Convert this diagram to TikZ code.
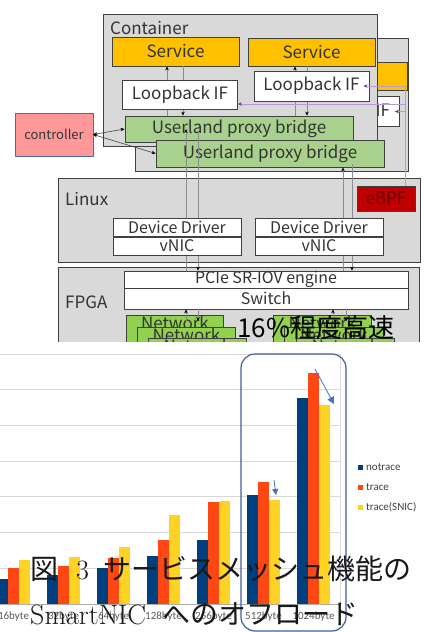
\documentclass[tikz,border=0pt]{standalone}
\usepackage{fontspec}
\newfontfamily\jpfont{Noto Sans CJK JP}
\newfontfamily\chartfont{Carlito}
\usetikzlibrary{positioning}
\usetikzlibrary{arrows.meta}

\definecolor{boxgray}{HTML}{D9D9D9}
\definecolor{linegray}{HTML}{404040}
\definecolor{flowgray}{HTML}{8C8C8C}
\definecolor{svcorange}{HTML}{FFC000}
\definecolor{upbgreen}{HTML}{A9D18E}
\definecolor{netgreen}{HTML}{92D050}
\definecolor{ctrlpink}{HTML}{FF9999}
\definecolor{ctrlblue}{HTML}{4A6BB0}
\definecolor{ebpfred}{HTML}{C00000}
\definecolor{ebpftext}{HTML}{6A0000}
\definecolor{hookline}{HTML}{B49BD6}
\definecolor{hooktip}{HTML}{7030A0}
\definecolor{barnavy}{HTML}{00407F}
\definecolor{barorange}{HTML}{FF4713}
\definecolor{baryellow}{HTML}{FFD324}
\definecolor{gridgray}{HTML}{D9D9D9}
\definecolor{markblue}{HTML}{3F5E9C}
\definecolor{hintblue}{HTML}{4472C4}

\begin{document}
\begin{tikzpicture}[x=1pt, y=-1pt, >={Stealth[black,length=4pt,width=3.5pt]},
  every node/.style={font=\jpfont\fontsize{17}{19}\selectfont, text=black!80, inner sep=0pt},
  frame/.style={draw=linegray, fill=boxgray, line width=.8pt},
  svc/.style={draw=linegray, fill=svcorange, line width=.8pt, minimum width=127, minimum height=28},
  lbk/.style={draw=linegray, fill=white, line width=.8pt, minimum width=115, minimum height=29},
  upb/.style={draw=linegray, fill=upbgreen, line width=.8pt, minimum width=228, minimum height=26},
  cell/.style={draw=linegray, fill=white, line width=.8pt, minimum width=128, minimum height=18.5, font=\jpfont\fontsize{16}{18}\selectfont},
  wide/.style={draw=linegray, fill=white, line width=.8pt, minimum width=284, font=\jpfont\fontsize{16}{18}\selectfont},
  netbox/.style={draw=linegray, fill=netgreen, line width=.8pt, anchor=north west, minimum width=97, inner ysep=2pt, text height=12pt, text depth=26pt},
  flow/.style={draw=flowgray, line width=.6pt},
  hook/.style={draw=hookline, line width=1pt, -{Stealth[hooktip,length=4pt,width=3.5pt]}},
  xlab/.style={font=\chartfont\fontsize{11}{12}\selectfont, text=black!65},
  leg/.style={font=\chartfont\fontsize{11}{12}\selectfont, text=black!75, anchor=west},
  captext/.style={anchor=west, text=black!90, font=\rmfamily\fontsize{28}{30}\selectfont}]

\useasboundingbox (0,0) rectangle (424,632);

% second container, mostly hidden
\node[frame, minimum width=273, minimum height=133] (contB) at (271.5,104.5) {};
\node[svc] (svcBB) at (343.5,76.5) {Service};
\node[lbk, minimum height=30] (lbBB) at (342,111.5) {Loopback IF};

% first container
\node[frame, minimum width=274, minimum height=132] (contA) at (240,80) {};
\node[anchor=west] (contlab) at (110,28) {Container};
\node[svc, minimum height=29] (svcA) at (175.5,51.5) {Service};
\node[svc] (svcB) at (311.5,52) {Service};
\node[upb] (upbA) at (239,129) {Userland proxy bridge};
\node[upb, minimum height=27] (upbB) at (270,153.5) {Userland proxy bridge};

\node[draw=ctrlblue, fill=ctrlpink, minimum width=78, minimum height=43, font=\jpfont\fontsize{13}{15}\selectfont] (ctrl) at (54,134.5) {controller};

% Linux
\node[frame, minimum width=362, minimum height=84] (linux) at (239,220) {};
\node[anchor=west] (linuxlab) at (65,199) {Linux};
\node[draw=linegray, fill=ebpfred, text=ebpftext, minimum width=58, minimum height=25] (ebpf) at (386,198.5) {eBPF};

% FPGA
\node[frame, minimum width=361, minimum height=90] (fpga) at (238.5,312) {};
\node[anchor=west] (fpgalab) at (65,302) {FPGA};
\node[wide, minimum height=17] (pcie) at (266,279.5) {PCIe SR-IOV engine};
\node[wide, minimum height=21] (switch) at (266,298.5) {Switch};

\node[netbox] (netA1) at (126,315) {Network};
\node[netbox, minimum width=98] (netA2) at (137,327) {Network};
\node[netbox, minimum width=98] (netA3) at (148,338) {Network};
\node[netbox, minimum width=98] (netB1) at (273,315) {Network};
\node[netbox, minimum width=99] (netB2) at (284,327) {Network};
\node[netbox, minimum width=98] (netB3) at (296,338) {Network};

% data paths
\coordinate (l1) at (167,0);
\coordinate (l2) at (183,0);
\coordinate (l3) at (295,0);
\coordinate (l4) at (307,0);
\coordinate (l5) at (186,0);
\coordinate (l6) at (198,0);
\coordinate (l7) at (343,0);
\coordinate (l8) at (352,0);
\coordinate (l9) at (333,0);
\coordinate (l10) at (346,0);
\coordinate (netlvl) at (0,321);

\draw[flow,<-] (l1 |- svcA.south) -- (l1 |- upbA.north);
\draw[flow,->] (l2 |- svcA.south) -- (l2 |- upbA.north);
\draw[flow,<-] (l3 |- svcB.south) -- (l3 |- upbA.north);
\draw[flow,->] (l4 |- svcB.south) -- (l4 |- upbA.north);
\draw[flow,<-] (l5 |- upbA.center) -- (l5 |- pcie.north);
\draw[flow,->] ([yshift=-4pt]l6 |- upbA.center) -- (l6 |- pcie.north);
\draw[flow,<-] (l7 |- upbB.south) -- (l7 |- pcie.north);
\draw[flow,->] ([yshift=3pt]l8 |- upbB.south) -- (l8 |- pcie.north);
\draw[flow,<-] (l5 |- switch.south) -- (l5 |- netlvl);
\draw[flow,->] (l6 |- switch.south) -- (l6 |- netlvl);
\draw[flow,<-] (l9 |- switch.south) -- (l9 |- netlvl);
\draw[flow,->] (l10 |- switch.south) -- (l10 |- netlvl);

\node[lbk] (lbA) at (180,94.5) {Loopback IF};
\node[lbk, minimum height=30] (lbB) at (311.5,86) {Loopback IF};

\node[cell] (ddA) at (177,227.5) {Device Driver};
\node[cell, minimum height=18] (vnicA) at (177,246) {vNIC};
\node[cell] (ddB) at (319,227.5) {Device Driver};
\node[cell, minimum height=18] (vnicB) at (319,246) {vNIC};

% eBPF hooks
\coordinate (bus) at (405,0);
\draw[hook] (bus |- ebpf.north) -- (bus |- lbB.east) -- ([xshift=-6pt]lbB.east);
\draw[hook] (bus |- 0,104) -- ([yshift=-9.5pt]lbA.east);
\draw[hook] (bus |- lbBB.east) -- ([xshift=-5pt]lbBB.east);

\draw[draw=linegray, line width=.6pt, <->] (ctrl.east) -- (upbA.west);
\draw[draw=linegray, line width=.6pt, <->] (ctrl.east) -- (upbB.west);

\node[anchor=west, text=black, font=\jpfont\fontsize{26}{28}\selectfont] (gain) at (237,328) {16\%程度高速};

% latency chart
\fill[white] (0,342) rectangle (424,632);
\foreach \k in {0,...,6}
  \draw[gridgray, line width=.8pt] (0,{354+35.7*\k}) -- (340,{354+35.7*\k});
\draw[gridgray!80!black, line width=.8pt] (0,604) -- (340,604);
\draw[gridgray, line width=.8pt] (340,354) -- (340,604);

\foreach \g/\ha/\hb/\hc in {0/579/568/560, 1/575/566/557, 2/568/558/547, 3/556/540/515, 4/540/502/501, 5/495/482/500, 6/398/373/405} {
  \fill[barnavy] ({-3+50*\g},604) rectangle ({8+50*\g},\ha);
  \fill[barorange] ({8+50*\g},604) rectangle ({19+50*\g},\hb);
  \fill[baryellow] ({19+50*\g},604) rectangle ({30+50*\g},\hc);
}

\foreach \g/\t in {0/16byte, 1/32byte, 2/64byte, 3/128byte, 4/256byte, 5/512byte, 6/1024byte}
  \node[xlab] (lab\g) at ({13.5+50*\g},617) {\t};

\fill[barnavy] (358,464.5) rectangle (363,469.5);
\node[leg] (legA) at (366,467) {notrace};
\fill[barorange] (358,484.5) rectangle (363,489.5);
\node[leg] (legB) at (366,487) {trace};
\fill[baryellow] (358,504.5) rectangle (363,509.5);
\node[leg] (legC) at (366,507) {trace(SNIC)};

\coordinate (hiA) at (315,369);
\coordinate (hiB) at (334,404);
\coordinate (hiC) at (274,480);
\coordinate (hiD) at (276,495);
\draw[hintblue, line width=.8pt, -{Triangle[length=7pt,width=7pt]}] (hiA) -- (hiB);
\draw[hintblue, line width=.8pt, -{Triangle[length=6pt,width=6pt]}] (hiC) -- (hiD);

\draw[markblue, line width=1.2pt, rounded corners=14pt] (241,354) rectangle (346,631);

% caption
\node[captext] (capA) at (30,569) {{\jpfont 図}\hspace{18pt}3\hspace{14pt}{\jpfont サービスメッシュ機能の}};
\node[captext] (capB) at (30,614) {SmartNIC\hspace{16pt}{\jpfont へのオフロード}};

\end{tikzpicture}
\end{document}
